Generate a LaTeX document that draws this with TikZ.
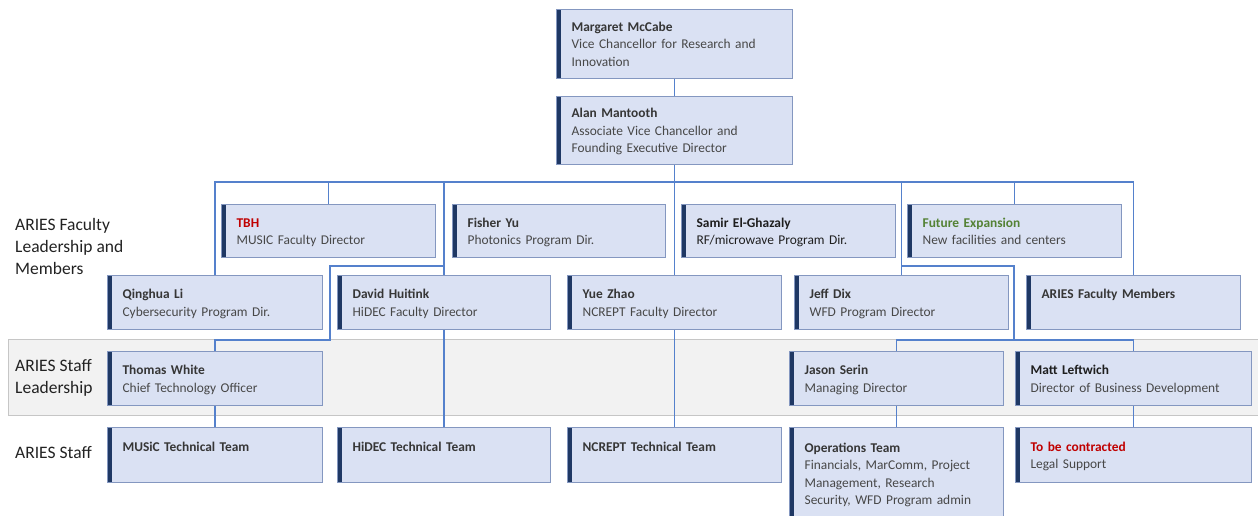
\documentclass[tikz,border=0pt]{standalone}
\usepackage{fontspec}
\setmainfont{Carlito}
\usetikzlibrary{backgrounds,calc}
\definecolor{boxfill}{HTML}{DAE1F3}
\definecolor{boxline}{HTML}{8497C0}
\definecolor{barcol}{HTML}{1F3864}
\definecolor{conncol}{HTML}{5581CC}
\definecolor{bandfill}{HTML}{F2F2F2}
\definecolor{bandline}{HTML}{C6C6C6}
\definecolor{nametxt}{HTML}{363636}
\definecolor{darkname}{HTML}{1E1E1E}
\definecolor{subtxt}{HTML}{474747}
\definecolor{redtxt}{HTML}{C00000}
\definecolor{greentxt}{HTML}{548235}
\definecolor{labeltxt}{HTML}{222222}
\newcommand\orgboxfont{\fontsize{13.4}{17.5}\selectfont}
\newcommand\bst{\rule[-4pt]{0pt}{17.5pt}}
\newcommand\nm[1]{{\bfseries\color{nametxt}#1}}
\newcommand\nmdark[1]{{\bfseries\color{darkname}#1}}
\newcommand\nmred[1]{{\bfseries\color{redtxt}#1}}
\newcommand\nmgreen[1]{{\bfseries\color{greentxt}#1}}
\tikzset{
  orgbox/.style={draw=boxline, line width=1.2pt, fill=boxfill,
    inner xsep=15pt, inner ysep=0pt, align=left, anchor=north west,
    font=\orgboxfont, text=subtxt,
    path picture={\fill[barcol] (path picture bounding box.north west)
      rectangle ([xshift=4.5pt]path picture bounding box.south west);}},
  sidelabel/.style={anchor=west, align=left, inner sep=0pt,
    font=\fontsize{17.5}{22}\selectfont, text=labeltxt},
  conn/.style={draw=conncol, line width=1.5pt},
  bandstyle/.style={fill=bandfill, draw=bandline, line width=1pt}
}
\begin{document}
\begin{tikzpicture}[x=1pt,y=-1pt]
\useasboundingbox (0,0) rectangle (1258,516);
\clip (0,0) rectangle (1258,516);

% top
\node[orgbox, text width=206pt, minimum height=69pt] (mm) at (556,9)
  {\nm{Margaret McCabe}\bst\\Vice Chancellor for Research and\\Innovation\bst};
\node[orgbox, text width=206pt, minimum height=68pt] (am) at (556,96)
  {\nm{Alan Mantooth}\bst\\Associate Vice Chancellor and\\Founding Executive Director\bst};

% row 1
\node[orgbox, text width=184pt, minimum height=53pt] (tbh) at (221,204)
  {\nmred{TBH}\bst\\MUSIC Faculty Director\bst};
\node[orgbox, text width=183pt, minimum height=53pt] (fy) at (452,204)
  {\nm{Fisher Yu}\bst\\Photonics Program Dir.\bst};
\node[orgbox, text width=184pt, minimum height=53pt] (se) at (681,204)
  {\nmdark{Samir El-Ghazaly}\bst\\{\color{darkname}RF/microwave Program Dir.}\bst};
\node[orgbox, text width=184pt, minimum height=53pt] (fe) at (907,204)
  {\nmgreen{Future Expansion}\bst\\New facilities and centers\bst};

% row 2
\node[orgbox, text width=185pt, minimum height=54pt] (qli) at (107,275)
  {\nm{Qinghua Li}\bst\\Cybersecurity Program Dir.\bst};
\node[orgbox, text width=183pt, minimum height=54pt] (dh) at (337,275)
  {\nm{David Huitink}\bst\\HiDEC Faculty Director\bst};
\node[orgbox, text width=184pt, minimum height=54pt] (yz) at (567,275)
  {\nm{Yue Zhao}\bst\\NCREPT Faculty Director\bst};
\node[orgbox, text width=184pt, minimum height=54pt] (jd) at (794,275)
  {\nm{Jeff Dix}\bst\\WFD Program Director\bst};
\node[orgbox, text width=184pt, minimum height=54pt] (afm) at (1026,275)
  {\nm{ARIES Faculty Members}\bst\\\bst};

% row 3
\node[orgbox, text width=185pt, minimum height=54pt] (tw) at (107,351)
  {\nm{Thomas White}\bst\\Chief Technology Officer\bst};
\node[orgbox, text width=184pt, minimum height=54pt] (js) at (789,351)
  {\nm{Jason Serin}\bst\\Managing Director\bst};
\node[orgbox, text width=206pt, minimum height=54pt] (ml) at (1015,351)
  {\nmdark{Matt Leftwich}\bst\\Director of Business Development\bst};

% row 4
\node[orgbox, text width=185pt, minimum height=55pt] (music) at (107,427)
  {\nm{MUSiC Technical Team}\bst\\\bst};
\node[orgbox, text width=183pt, minimum height=55pt] (hidec) at (337,427)
  {\nm{HiDEC Technical Team}\bst\\\bst};
\node[orgbox, text width=184pt, minimum height=55pt] (ncrept) at (567,427)
  {\nm{NCREPT Technical Team}\bst\\\bst};
\node[orgbox, text width=184pt, minimum height=92pt] (ops) at (789,427)
  {\nm{Operations Team}\bst\\Financials, MarComm, Project\\Management, Research\\Security, WFD Program admin\bst};
\node[orgbox, text width=206pt, minimum height=55pt] (tbc) at (1015,427)
  {\nmred{To be contracted}\bst\\Legal Support\bst};

% side labels
\node[sidelabel] (lfac) at (15,246) {ARIES Faculty\\Leadership and\\Members};
\node[sidelabel] (lstl) at (15,377.5) {ARIES Staff\\Leadership};
\node[sidelabel] (lst) at (15,453) {ARIES Staff};

\coordinate (bus) at (674,182);
\coordinate (tjoin) at (330,266);
\coordinate (rjoin) at (1014,266);
\coordinate (staffbus) at (0,340);

\begin{pgfonlayer}{background}
  \draw[bandstyle] (8,339) rectangle (1270,415);
  \draw[conn] (mm.south) -- (am.north);
  \draw[conn] (am.south) -- (yz.north);
  \draw[conn] (yz.south) -- (ncrept.north);
  \draw[conn] (qli.north) -- (qli.north |- bus) -- (afm.north |- bus) -- (afm.north);
  \draw[conn] (tbh.north) -- (tbh.north |- bus);
  \draw[conn] (dh.north |- bus) -- (dh.north);
  \draw[conn] (dh.south) -- (hidec.north);
  \draw[conn] (jd.north |- bus) -- (jd.north);
  \draw[conn] (fe.north |- bus) -- (fe.north);
  \draw[conn] (dh.north |- tjoin) -- (tjoin) -- (tjoin |- staffbus) -- (tw.north |- staffbus) -- (tw.north);
  \draw[conn] (tw.south) -- (music.north);
  \draw[conn] (jd.north |- rjoin) -- (rjoin) -- (rjoin |- staffbus);
  \draw[conn] (js.north) -- (js.north |- staffbus) -- (ml.north |- staffbus) -- (ml.north);
  \draw[conn] (js.south) -- (ops.north);
  \draw[conn] (ml.south) -- (tbc.north);
\end{pgfonlayer}
\end{tikzpicture}
\end{document}
